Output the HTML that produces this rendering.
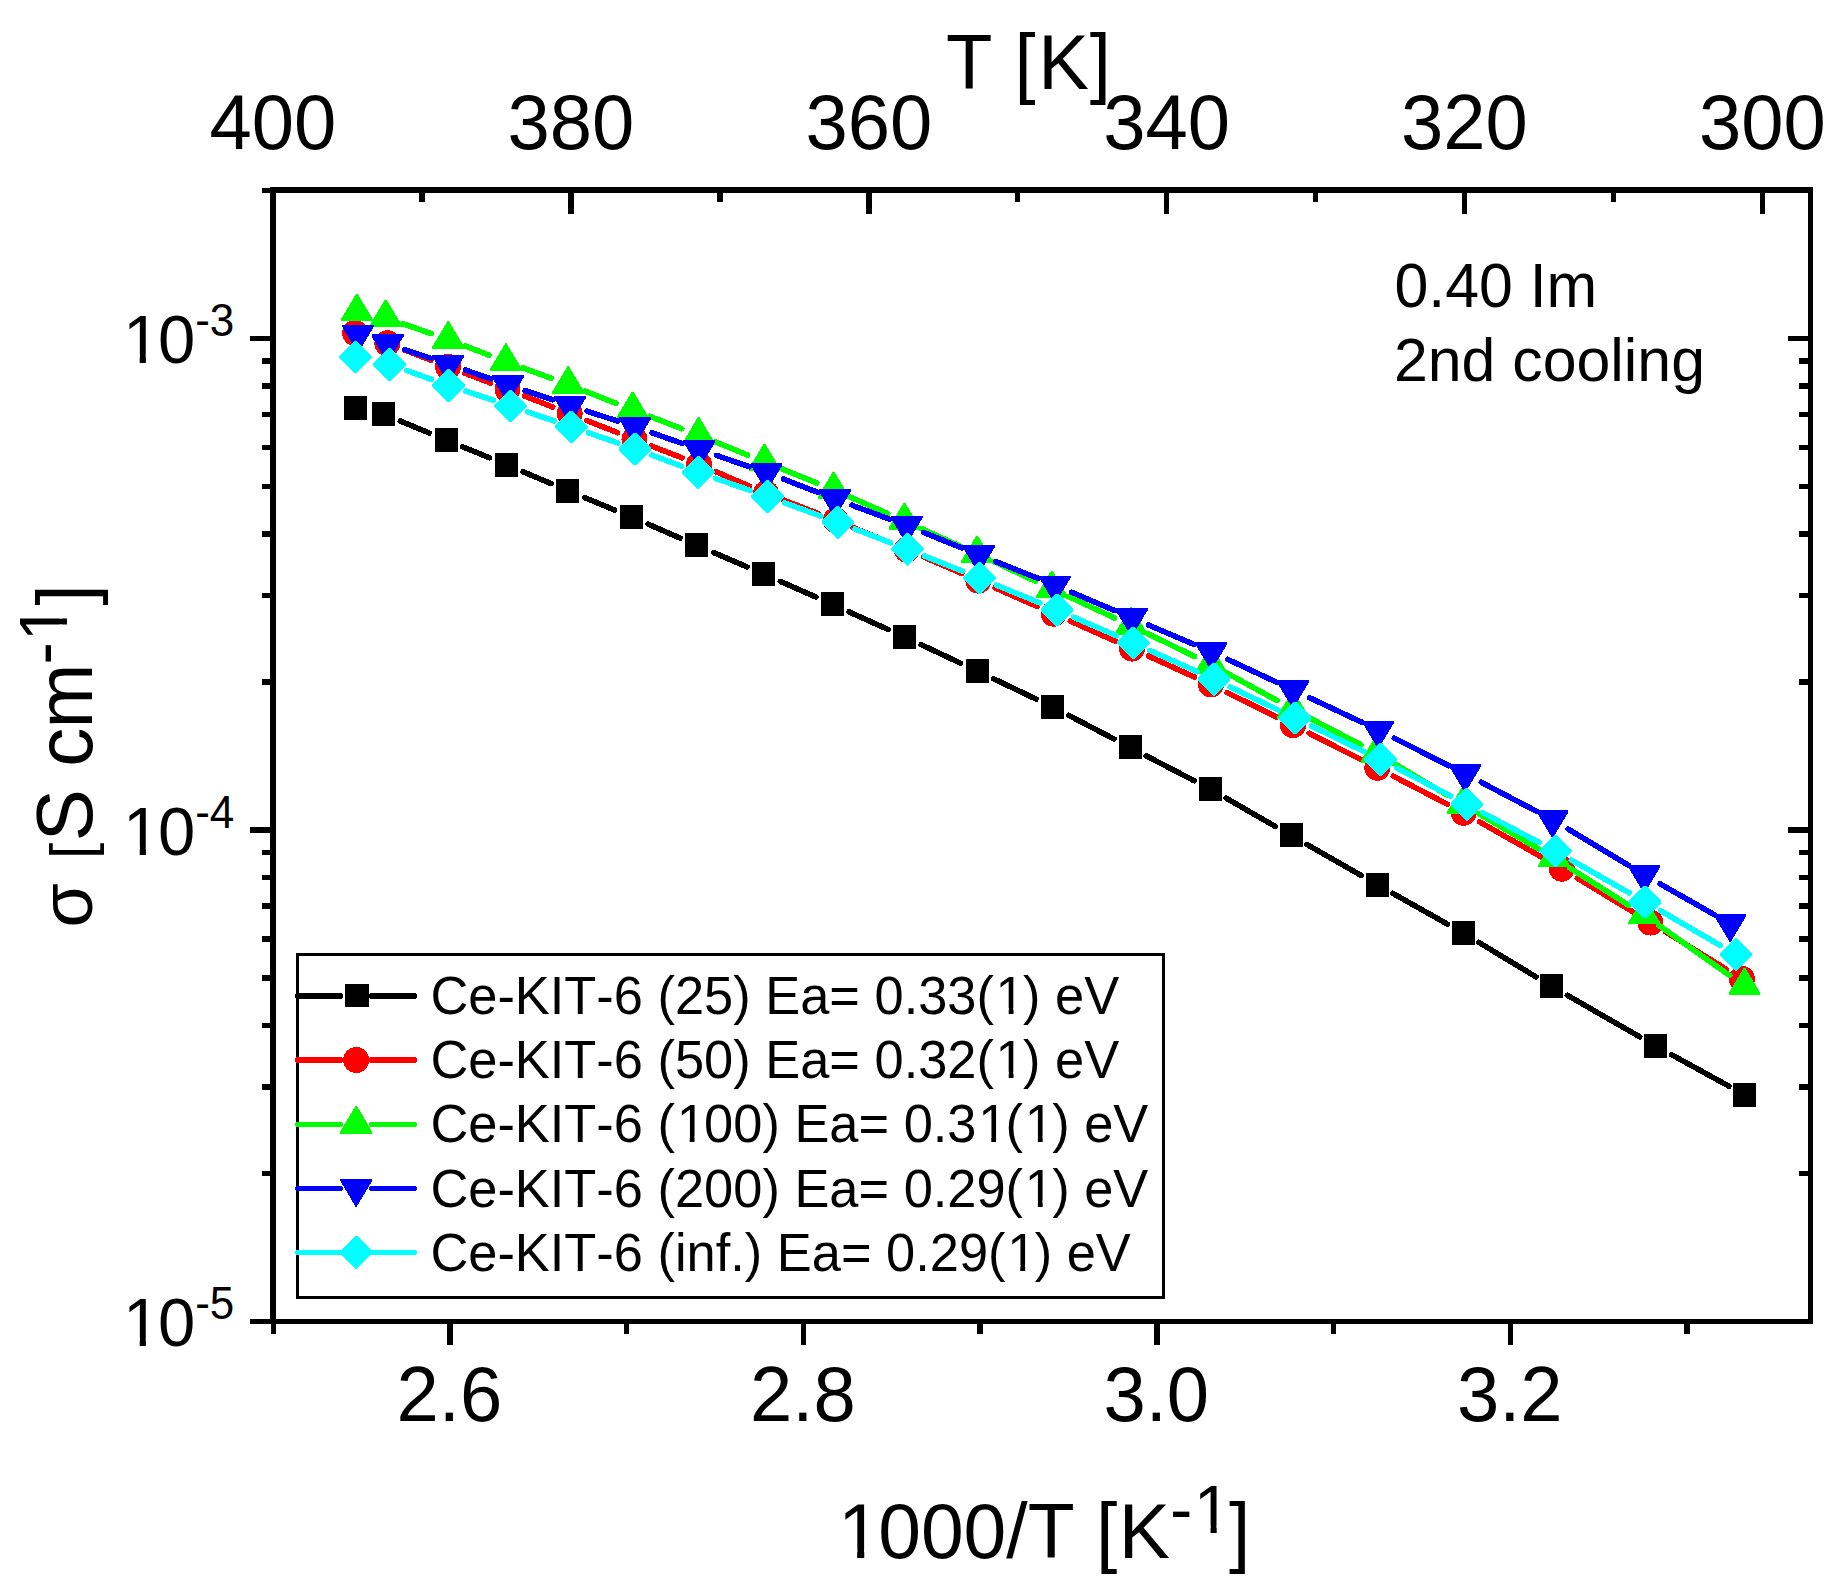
<!DOCTYPE html>
<html lang="en"><head><meta charset="utf-8"><title>Conductivity Arrhenius plot</title>
<style>html,body{margin:0;padding:0;background:#fff}svg{display:block}</style></head>
<body>
<svg width="1843" height="1594" viewBox="0 0 1843 1594">
<rect x="0" y="0" width="1843" height="1594" fill="#fff"/>
<g shape-rendering="crispEdges">
<path d="M400.3 421.0L429.2 433.0M462.8 446.9L489.6 457.8M523.2 471.8L551.1 483.6M584.7 497.6L614.6 510.0M648.1 524.1L680.1 538.1M713.5 552.5L747.0 566.8M780.3 581.4L815.9 597.0M849.1 611.9L888.0 629.4M921.1 644.6L960.6 663.2M993.5 678.7L1036.1 699.1M1068.6 715.3L1114.0 739.0M1146.2 755.8L1194.3 780.8M1226.2 798.2L1275.3 826.4M1306.9 844.4L1361.2 875.5M1392.9 893.4L1447.2 924.0M1478.7 942.3L1536.0 976.9M1567.4 995.3L1639.7 1036.8M1671.4 1054.6L1729.0 1086.2" stroke="#000000" stroke-width="5.6" stroke-linecap="round" fill="none"/>
<rect x="344" y="396" width="23" height="24" fill="#000000"/>
<rect x="372" y="402" width="23" height="24" fill="#000000"/>
<rect x="435" y="428" width="23" height="24" fill="#000000"/>
<rect x="495" y="453" width="23" height="24" fill="#000000"/>
<rect x="556" y="479" width="23" height="24" fill="#000000"/>
<rect x="620" y="505" width="23" height="24" fill="#000000"/>
<rect x="685" y="533" width="23" height="24" fill="#000000"/>
<rect x="752" y="562" width="23" height="24" fill="#000000"/>
<rect x="821" y="592" width="23" height="24" fill="#000000"/>
<rect x="893" y="625" width="23" height="24" fill="#000000"/>
<rect x="966" y="659" width="23" height="24" fill="#000000"/>
<rect x="1041" y="695" width="23" height="24" fill="#000000"/>
<rect x="1119" y="735" width="23" height="24" fill="#000000"/>
<rect x="1199" y="777" width="23" height="24" fill="#000000"/>
<rect x="1280" y="823" width="23" height="24" fill="#000000"/>
<rect x="1366" y="873" width="23" height="24" fill="#000000"/>
<rect x="1452" y="921" width="23" height="24" fill="#000000"/>
<rect x="1540" y="974" width="23" height="24" fill="#000000"/>
<rect x="1644" y="1034" width="23" height="24" fill="#000000"/>
<rect x="1733" y="1083" width="23" height="24" fill="#000000"/>
<path d="M404.4 349.9L431.0 360.2M465.0 373.3L490.5 382.9M524.5 396.0L552.7 407.0M586.6 420.4L617.6 432.7M651.5 446.1L682.0 457.8M715.7 471.6L749.3 486.1M783.0 499.9L818.8 513.7M852.6 527.3L890.1 542.7M923.6 556.9L961.7 573.4M995.1 587.9L1037.0 606.4M1070.3 621.1L1115.3 641.2M1148.5 656.1L1194.3 677.0M1227.2 692.6L1276.7 717.0M1309.2 733.3L1361.1 759.6M1393.4 776.2L1447.6 804.4M1479.5 821.8L1546.1 859.7M1577.4 878.2L1635.0 913.1M1666.0 932.1L1726.3 969.3" stroke="#ff0000" stroke-width="5.6" stroke-linecap="round" fill="none"/>
<circle cx="355.1" cy="333.0" r="13" fill="#ff0000"/>
<circle cx="387.4" cy="343.3" r="13" fill="#ff0000"/>
<circle cx="448.0" cy="366.8" r="13" fill="#ff0000"/>
<circle cx="507.5" cy="389.4" r="13" fill="#ff0000"/>
<circle cx="569.7" cy="413.6" r="13" fill="#ff0000"/>
<circle cx="634.5" cy="439.5" r="13" fill="#ff0000"/>
<circle cx="699.0" cy="464.4" r="13" fill="#ff0000"/>
<circle cx="766.0" cy="493.3" r="13" fill="#ff0000"/>
<circle cx="835.8" cy="520.3" r="13" fill="#ff0000"/>
<circle cx="906.9" cy="549.7" r="13" fill="#ff0000"/>
<circle cx="978.4" cy="580.6" r="13" fill="#ff0000"/>
<circle cx="1053.7" cy="613.7" r="13" fill="#ff0000"/>
<circle cx="1131.9" cy="648.6" r="13" fill="#ff0000"/>
<circle cx="1210.9" cy="684.5" r="13" fill="#ff0000"/>
<circle cx="1293.0" cy="725.1" r="13" fill="#ff0000"/>
<circle cx="1377.3" cy="767.8" r="13" fill="#ff0000"/>
<circle cx="1463.7" cy="812.8" r="13" fill="#ff0000"/>
<circle cx="1561.9" cy="868.7" r="13" fill="#ff0000"/>
<circle cx="1650.5" cy="922.6" r="13" fill="#ff0000"/>
<circle cx="1741.8" cy="978.8" r="13" fill="#ff0000"/>
<path d="M402.9 323.7L431.0 333.5M465.2 346.0L488.9 355.1M523.0 367.9L551.1 378.2M585.1 391.1L615.8 403.2M649.7 416.3L681.7 428.7M715.6 442.0L747.5 455.0M781.3 468.6L816.7 483.0M850.3 497.1L887.7 513.6M921.0 528.4L960.5 546.3M993.6 561.5L1035.4 581.2M1068.4 596.5L1114.5 617.9M1147.4 633.5L1194.6 656.5M1227.0 673.2L1277.0 700.5M1309.1 717.7L1360.9 744.8M1392.6 762.6L1447.4 795.2M1478.7 813.7L1538.3 848.8M1569.4 867.7L1628.8 905.3M1659.1 925.5L1729.6 975.5" stroke="#00ff00" stroke-width="5.6" stroke-linecap="round" fill="none"/>
<polygon points="356.2,293.7 357.6,293.7 372.8,319.1 372.8,321.2 341.0,321.2 341.0,319.1" fill="#00ff00"/>
<polygon points="385.0,299.5 386.4,299.5 401.6,324.9 401.6,327.0 369.8,327.0 369.8,324.9" fill="#00ff00"/>
<polygon points="447.5,321.3 448.9,321.3 464.1,346.7 464.1,348.8 432.3,348.8 432.3,346.7" fill="#00ff00"/>
<polygon points="505.2,343.4 506.6,343.4 521.8,368.8 521.8,370.9 490.0,370.9 490.0,368.8" fill="#00ff00"/>
<polygon points="567.5,366.3 568.9,366.3 584.1,391.7 584.1,393.8 552.3,393.8 552.3,391.7" fill="#00ff00"/>
<polygon points="632.0,391.6 633.4,391.6 648.6,417.0 648.6,419.1 616.8,419.1 616.8,417.0" fill="#00ff00"/>
<polygon points="698.0,417.0 699.4,417.0 714.6,442.4 714.6,444.5 682.8,444.5 682.8,442.4" fill="#00ff00"/>
<polygon points="763.7,443.6 765.1,443.6 780.3,469.0 780.3,471.1 748.5,471.1 748.5,469.0" fill="#00ff00"/>
<polygon points="832.9,471.6 834.3,471.6 849.5,497.0 849.5,499.1 817.7,499.1 817.7,497.0" fill="#00ff00"/>
<polygon points="903.7,502.7 905.1,502.7 920.3,528.1 920.3,530.2 888.5,530.2 888.5,528.1" fill="#00ff00"/>
<polygon points="976.4,535.6 977.8,535.6 993.0,561.0 993.0,563.1 961.2,563.1 961.2,561.0" fill="#00ff00"/>
<polygon points="1051.2,570.7 1052.6,570.7 1067.8,596.1 1067.8,598.2 1036.0,598.2 1036.0,596.1" fill="#00ff00"/>
<polygon points="1130.3,607.3 1131.7,607.3 1146.9,632.7 1146.9,634.8 1115.1,634.8 1115.1,632.7" fill="#00ff00"/>
<polygon points="1210.3,646.3 1211.7,646.3 1226.9,671.7 1226.9,673.8 1195.1,673.8 1195.1,671.7" fill="#00ff00"/>
<polygon points="1292.3,691.0 1293.7,691.0 1308.9,716.4 1308.9,718.5 1277.1,718.5 1277.1,716.4" fill="#00ff00"/>
<polygon points="1376.3,735.1 1377.7,735.1 1392.9,760.5 1392.9,762.6 1361.1,762.6 1361.1,760.5" fill="#00ff00"/>
<polygon points="1462.3,786.3 1463.7,786.3 1478.9,811.7 1478.9,813.8 1447.1,813.8 1447.1,811.7" fill="#00ff00"/>
<polygon points="1553.3,839.8 1554.7,839.8 1569.9,865.2 1569.9,867.3 1538.1,867.3 1538.1,865.2" fill="#00ff00"/>
<polygon points="1643.5,896.8 1644.9,896.8 1660.1,922.2 1660.1,924.3 1628.3,924.3 1628.3,922.2" fill="#00ff00"/>
<polygon points="1743.8,967.8 1745.2,967.8 1760.4,993.2 1760.4,995.3 1728.6,995.3 1728.6,993.2" fill="#00ff00"/>
<path d="M404.9 349.6L430.9 358.3M465.4 370.0L490.6 378.8M525.1 390.6L552.6 399.8M587.2 411.2L617.6 421.1M652.1 432.8L682.1 443.4M716.5 455.4L749.3 466.7M783.5 479.1L817.9 492.4M852.0 505.2L889.5 519.2M923.5 532.4L961.9 548.0M995.7 561.6L1038.0 578.3M1071.6 592.2L1114.9 610.7M1148.4 625.0L1194.5 644.6M1227.8 659.4L1276.5 682.2M1309.5 697.7L1361.7 722.2M1394.4 738.2L1448.9 765.7M1481.2 782.3L1536.4 811.2M1568.1 829.0L1628.6 865.4M1660.0 883.8L1714.4 914.7" stroke="#0000ff" stroke-width="5.6" stroke-linecap="round" fill="none"/>
<polygon points="357.3,352.2 358.7,352.2 373.9,326.8 373.9,324.7 342.1,324.7 342.1,326.8" fill="#0000ff"/>
<polygon points="386.9,361.9 388.3,361.9 403.5,336.5 403.5,334.4 371.7,334.4 371.7,336.5" fill="#0000ff"/>
<polygon points="447.5,382.0 448.9,382.0 464.1,356.6 464.1,354.5 432.3,354.5 432.3,356.6" fill="#0000ff"/>
<polygon points="507.1,402.8 508.5,402.8 523.7,377.4 523.7,375.3 491.9,375.3 491.9,377.4" fill="#0000ff"/>
<polygon points="569.2,423.6 570.6,423.6 585.8,398.2 585.8,396.1 554.0,396.1 554.0,398.2" fill="#0000ff"/>
<polygon points="634.2,444.7 635.6,444.7 650.8,419.3 650.8,417.2 619.0,417.2 619.0,419.3" fill="#0000ff"/>
<polygon points="698.6,467.5 700.0,467.5 715.2,442.1 715.2,440.0 683.4,440.0 683.4,442.1" fill="#0000ff"/>
<polygon points="765.8,490.6 767.2,490.6 782.4,465.2 782.4,463.1 750.6,463.1 750.6,465.2" fill="#0000ff"/>
<polygon points="834.2,516.9 835.6,516.9 850.8,491.5 850.8,489.4 819.0,489.4 819.0,491.5" fill="#0000ff"/>
<polygon points="905.9,543.5 907.3,543.5 922.5,518.1 922.5,516.0 890.7,516.0 890.7,518.1" fill="#0000ff"/>
<polygon points="978.1,572.9 979.5,572.9 994.7,547.5 994.7,545.4 962.9,545.4 962.9,547.5" fill="#0000ff"/>
<polygon points="1054.2,603.0 1055.6,603.0 1070.8,577.6 1070.8,575.5 1039.0,575.5 1039.0,577.6" fill="#0000ff"/>
<polygon points="1130.9,635.9 1132.3,635.9 1147.5,610.5 1147.5,608.4 1115.7,608.4 1115.7,610.5" fill="#0000ff"/>
<polygon points="1210.6,669.7 1212.0,669.7 1227.2,644.3 1227.2,642.2 1195.4,642.2 1195.4,644.3" fill="#0000ff"/>
<polygon points="1292.3,707.9 1293.7,707.9 1308.9,682.5 1308.9,680.4 1277.1,680.4 1277.1,682.5" fill="#0000ff"/>
<polygon points="1377.5,748.0 1378.9,748.0 1394.1,722.6 1394.1,720.5 1362.3,720.5 1362.3,722.6" fill="#0000ff"/>
<polygon points="1464.4,791.9 1465.8,791.9 1481.0,766.5 1481.0,764.4 1449.2,764.4 1449.2,766.5" fill="#0000ff"/>
<polygon points="1551.8,837.6 1553.2,837.6 1568.4,812.2 1568.4,810.1 1536.6,810.1 1536.6,812.2" fill="#0000ff"/>
<polygon points="1643.5,892.8 1644.9,892.8 1660.1,867.4 1660.1,865.3 1628.3,865.3 1628.3,867.4" fill="#0000ff"/>
<polygon points="1729.5,941.7 1730.9,941.7 1746.1,916.3 1746.1,914.2 1714.3,914.2 1714.3,916.3" fill="#0000ff"/>
<path d="M406.7 370.5L431.4 379.3M465.8 391.1L493.2 400.3M527.7 411.9L554.2 420.9M588.6 432.8L617.7 442.9M652.0 455.2L681.3 466.0M715.6 478.3L750.3 490.5M784.6 502.8L820.8 516.1M854.9 528.9L890.5 542.7M924.4 556.0L962.7 571.3M996.4 585.1L1040.0 603.0M1073.5 617.2L1116.6 635.8M1149.9 650.5L1197.3 671.7M1230.3 687.1L1278.6 710.2M1311.4 726.0L1364.2 751.6M1396.7 767.9L1450.7 796.0M1482.9 812.9L1539.4 842.6M1571.3 860.1L1629.2 892.8M1660.7 910.9L1720.3 945.4" stroke="#00ffff" stroke-width="5.6" stroke-linecap="round" fill="none"/>
<polygon points="354.6,340.7 356.6,340.7 371.9,356.0 371.9,358.0 356.6,373.3 354.6,373.3 339.3,358.0 339.3,356.0" fill="#00ffff"/>
<polygon points="388.6,348.1 390.6,348.1 405.9,363.4 405.9,365.4 390.6,380.7 388.6,380.7 373.3,365.4 373.3,363.4" fill="#00ffff"/>
<polygon points="447.5,369.1 449.5,369.1 464.8,384.4 464.8,386.4 449.5,401.7 447.5,401.7 432.2,386.4 432.2,384.4" fill="#00ffff"/>
<polygon points="509.5,389.7 511.5,389.7 526.8,405.0 526.8,407.0 511.5,422.3 509.5,422.3 494.2,407.0 494.2,405.0" fill="#00ffff"/>
<polygon points="570.4,410.5 572.4,410.5 587.7,425.8 587.7,427.8 572.4,443.1 570.4,443.1 555.1,427.8 555.1,425.8" fill="#00ffff"/>
<polygon points="633.9,432.6 635.9,432.6 651.2,447.9 651.2,449.9 635.9,465.2 633.9,465.2 618.6,449.9 618.6,447.9" fill="#00ffff"/>
<polygon points="697.4,456.0 699.4,456.0 714.7,471.3 714.7,473.3 699.4,488.6 697.4,488.6 682.1,473.3 682.1,471.3" fill="#00ffff"/>
<polygon points="766.5,480.2 768.5,480.2 783.8,495.5 783.8,497.5 768.5,512.8 766.5,512.8 751.2,497.5 751.2,495.5" fill="#00ffff"/>
<polygon points="836.9,506.1 838.9,506.1 854.2,521.4 854.2,523.4 838.9,538.7 836.9,538.7 821.6,523.4 821.6,521.4" fill="#00ffff"/>
<polygon points="906.5,532.9 908.5,532.9 923.8,548.2 923.8,550.2 908.5,565.5 906.5,565.5 891.2,550.2 891.2,548.2" fill="#00ffff"/>
<polygon points="978.6,561.8 980.6,561.8 995.9,577.1 995.9,579.1 980.6,594.4 978.6,594.4 963.3,579.1 963.3,577.1" fill="#00ffff"/>
<polygon points="1055.8,593.7 1057.8,593.7 1073.1,609.0 1073.1,611.0 1057.8,626.3 1055.8,626.3 1040.5,611.0 1040.5,609.0" fill="#00ffff"/>
<polygon points="1132.3,626.7 1134.3,626.7 1149.6,642.0 1149.6,644.0 1134.3,659.3 1132.3,659.3 1117.0,644.0 1117.0,642.0" fill="#00ffff"/>
<polygon points="1212.9,662.9 1214.9,662.9 1230.2,678.2 1230.2,680.2 1214.9,695.5 1212.9,695.5 1197.6,680.2 1197.6,678.2" fill="#00ffff"/>
<polygon points="1294.0,701.8 1296.0,701.8 1311.3,717.1 1311.3,719.1 1296.0,734.4 1294.0,734.4 1278.7,719.1 1278.7,717.1" fill="#00ffff"/>
<polygon points="1379.6,743.2 1381.6,743.2 1396.9,758.5 1396.9,760.5 1381.6,775.8 1379.6,775.8 1364.3,760.5 1364.3,758.5" fill="#00ffff"/>
<polygon points="1465.8,788.1 1467.8,788.1 1483.1,803.4 1483.1,805.4 1467.8,820.7 1465.8,820.7 1450.5,805.4 1450.5,803.4" fill="#00ffff"/>
<polygon points="1554.5,834.8 1556.5,834.8 1571.8,850.1 1571.8,852.1 1556.5,867.4 1554.5,867.4 1539.2,852.1 1539.2,850.1" fill="#00ffff"/>
<polygon points="1644.0,885.5 1646.0,885.5 1661.3,900.8 1661.3,902.8 1646.0,918.1 1644.0,918.1 1628.7,902.8 1628.7,900.8" fill="#00ffff"/>
<polygon points="1735.0,938.2 1737.0,938.2 1752.3,953.5 1752.3,955.5 1737.0,970.8 1735.0,970.8 1719.7,955.5 1719.7,953.5" fill="#00ffff"/>
<rect x="270" y="187" width="6" height="1137" fill="#000"/>
<rect x="1808" y="187" width="5" height="1137" fill="#000"/>
<rect x="270" y="187" width="1543" height="6" fill="#000"/>
<rect x="270" y="1319" width="1543" height="5" fill="#000"/>
<rect x="271" y="1324" width="5" height="10" fill="#000"/>
<rect x="447" y="1324" width="6" height="21" fill="#000"/>
<rect x="624" y="1324" width="5" height="10" fill="#000"/>
<rect x="801" y="1324" width="5" height="21" fill="#000"/>
<rect x="977" y="1324" width="6" height="10" fill="#000"/>
<rect x="1154" y="1324" width="6" height="21" fill="#000"/>
<rect x="1331" y="1324" width="5" height="10" fill="#000"/>
<rect x="1508" y="1324" width="5" height="21" fill="#000"/>
<rect x="1684" y="1324" width="6" height="10" fill="#000"/>
<rect x="419" y="193" width="6" height="9" fill="#000"/>
<rect x="568" y="193" width="6" height="21" fill="#000"/>
<rect x="717" y="193" width="6" height="9" fill="#000"/>
<rect x="866" y="193" width="6" height="21" fill="#000"/>
<rect x="1015" y="193" width="5" height="9" fill="#000"/>
<rect x="1164" y="193" width="5" height="21" fill="#000"/>
<rect x="1313" y="193" width="5" height="9" fill="#000"/>
<rect x="1462" y="193" width="5" height="21" fill="#000"/>
<rect x="1611" y="193" width="5" height="9" fill="#000"/>
<rect x="1760" y="193" width="5" height="21" fill="#000"/>
<rect x="250" y="1319" width="20" height="5" fill="#000"/>
<rect x="262" y="1171" width="8" height="5" fill="#000"/>
<rect x="1799" y="1171" width="9" height="5" fill="#000"/>
<rect x="262" y="1084" width="8" height="6" fill="#000"/>
<rect x="1799" y="1084" width="9" height="6" fill="#000"/>
<rect x="262" y="1023" width="8" height="5" fill="#000"/>
<rect x="1799" y="1023" width="9" height="5" fill="#000"/>
<rect x="262" y="975" width="8" height="6" fill="#000"/>
<rect x="1799" y="975" width="9" height="6" fill="#000"/>
<rect x="262" y="936" width="8" height="6" fill="#000"/>
<rect x="1799" y="936" width="9" height="6" fill="#000"/>
<rect x="262" y="903" width="8" height="6" fill="#000"/>
<rect x="1799" y="903" width="9" height="6" fill="#000"/>
<rect x="262" y="875" width="8" height="5" fill="#000"/>
<rect x="1799" y="875" width="9" height="5" fill="#000"/>
<rect x="262" y="850" width="8" height="5" fill="#000"/>
<rect x="1799" y="850" width="9" height="5" fill="#000"/>
<rect x="250" y="827" width="20" height="6" fill="#000"/>
<rect x="1788" y="827" width="20" height="6" fill="#000"/>
<rect x="262" y="679" width="8" height="6" fill="#000"/>
<rect x="1799" y="679" width="9" height="6" fill="#000"/>
<rect x="262" y="593" width="8" height="5" fill="#000"/>
<rect x="1799" y="593" width="9" height="5" fill="#000"/>
<rect x="262" y="531" width="8" height="6" fill="#000"/>
<rect x="1799" y="531" width="9" height="6" fill="#000"/>
<rect x="262" y="484" width="8" height="5" fill="#000"/>
<rect x="1799" y="484" width="9" height="5" fill="#000"/>
<rect x="262" y="445" width="8" height="5" fill="#000"/>
<rect x="1799" y="445" width="9" height="5" fill="#000"/>
<rect x="262" y="412" width="8" height="5" fill="#000"/>
<rect x="1799" y="412" width="9" height="5" fill="#000"/>
<rect x="262" y="383" width="8" height="6" fill="#000"/>
<rect x="1799" y="383" width="9" height="6" fill="#000"/>
<rect x="262" y="358" width="8" height="6" fill="#000"/>
<rect x="1799" y="358" width="9" height="6" fill="#000"/>
<rect x="250" y="336" width="20" height="5" fill="#000"/>
<rect x="1788" y="336" width="20" height="5" fill="#000"/>
<rect x="262" y="188" width="8" height="5" fill="#000"/>
<rect x="297.5" y="954.5" width="866" height="343" fill="#fff" stroke="#000" stroke-width="3"/>
<rect x="295" y="993" width="48" height="6" rx="2.5" fill="#000000"/><rect x="369" y="993" width="48" height="6" rx="2.5" fill="#000000"/>
<rect x="345" y="984" width="24" height="23" fill="#000000"/>
<rect x="295" y="1057" width="48" height="6" rx="2.5" fill="#ff0000"/><rect x="369" y="1057" width="48" height="6" rx="2.5" fill="#ff0000"/>
<circle cx="356.2" cy="1060.0" r="13" fill="#ff0000"/>
<rect x="295" y="1122" width="48" height="5" rx="2.5" fill="#00ff00"/><rect x="369" y="1122" width="48" height="5" rx="2.5" fill="#00ff00"/>
<polygon points="355.5,1106.1 356.9,1106.1 372.1,1131.5 372.1,1133.6 340.3,1133.6 340.3,1131.5" fill="#00ff00"/>
<rect x="295" y="1186" width="48" height="5" rx="2.5" fill="#0000ff"/><rect x="369" y="1186" width="48" height="5" rx="2.5" fill="#0000ff"/>
<polygon points="355.5,1206.5 356.9,1206.5 372.1,1181.1 372.1,1179.0 340.3,1179.0 340.3,1181.1" fill="#0000ff"/>
<rect x="295" y="1250" width="48" height="5" rx="2.5" fill="#00ffff"/><rect x="369" y="1250" width="48" height="5" rx="2.5" fill="#00ffff"/>
<polygon points="355.2,1236.2 357.2,1236.2 372.5,1251.5 372.5,1253.5 357.2,1268.8 355.2,1268.8 339.9,1253.5 339.9,1251.5" fill="#00ffff"/>
</g>
<g font-family="'Liberation Sans', sans-serif" fill="#000" style="font-kerning:none">
<text transform="translate(273.0,149.3) scale(1,1.03)" font-size="76" text-anchor="middle">400</text>
<text transform="translate(570.9,149.3) scale(1,1.03)" font-size="76" text-anchor="middle">380</text>
<text transform="translate(868.8,149.3) scale(1,1.03)" font-size="76" text-anchor="middle">360</text>
<text transform="translate(1166.6,149.3) scale(1,1.03)" font-size="76" text-anchor="middle">340</text>
<text transform="translate(1464.5,149.3) scale(1,1.03)" font-size="76" text-anchor="middle">320</text>
<text transform="translate(1762.4,149.3) scale(1,1.03)" font-size="76" text-anchor="middle">300</text>
<text transform="translate(449.4,1421.3) scale(1,1.03)" font-size="76" text-anchor="middle">2.6</text>
<text transform="translate(802.9,1421.3) scale(1,1.03)" font-size="76" text-anchor="middle">2.8</text>
<text transform="translate(1156.3,1421.3) scale(1,1.03)" font-size="76" text-anchor="middle">3.0</text>
<text transform="translate(1509.7,1421.3) scale(1,1.03)" font-size="76" text-anchor="middle">3.2</text>
<text transform="translate(946.0,88.6) scale(1,1.02)" font-size="76" text-anchor="start" dx="0 0 1 2.5 1">T [K]</text>
<clipPath id="k1" clipPathUnits="userSpaceOnUse"><path clip-rule="evenodd" d="M-30 -99.8H474.4V46.1H-30ZM5.56 -8.62H21.16V4.61H5.56ZM28.25 -8.62H43.25V4.61H28.25ZM360.92 -31.64H374.53V-20.10H360.92ZM380.71 -31.64H393.80V-20.10H380.71Z"/></clipPath>
<text transform="translate(836.0,1557.8) scale(1,1.02)" font-size="76.8" text-anchor="start" dx="2 -2.5 0 0 0 0 0 0 1.5 0 1.5 -2" clip-path="url(#k1)">1000/T [K<tspan font-size="67" dy="-24.12">-1</tspan><tspan dy="24.12">]</tspan></text>
<clipPath id="k2" clipPathUnits="userSpaceOnUse"><path clip-rule="evenodd" d="M-30 -87.1H173.3V40.2H-30ZM5.11 -7.52H18.72V4.02H5.11ZM24.90 -7.52H37.99V4.02H24.90Z"/></clipPath>
<text transform="translate(121.0,363.0) scale(1,1.03)" font-size="67" text-anchor="start" dx="2 -2.3" clip-path="url(#k2)">10<tspan font-size="44" dy="-26.21">-3</tspan></text>
<clipPath id="k3" clipPathUnits="userSpaceOnUse"><path clip-rule="evenodd" d="M-30 -87.1H173.3V40.2H-30ZM5.11 -7.52H18.72V4.02H5.11ZM24.90 -7.52H37.99V4.02H24.90Z"/></clipPath>
<text transform="translate(121.0,854.5) scale(1,1.03)" font-size="67" text-anchor="start" dx="2 -2.3" clip-path="url(#k3)">10<tspan font-size="44" dy="-26.21">-4</tspan></text>
<clipPath id="k4" clipPathUnits="userSpaceOnUse"><path clip-rule="evenodd" d="M-30 -87.1H173.3V40.2H-30ZM5.11 -7.52H18.72V4.02H5.11ZM24.90 -7.52H37.99V4.02H24.90Z"/></clipPath>
<text transform="translate(121.0,1346.0) scale(1,1.03)" font-size="67" text-anchor="start" dx="2 -2.3" clip-path="url(#k4)">10<tspan font-size="44" dy="-26.21">-5</tspan></text>
<g transform="translate(92,926) rotate(-90)">
<clipPath id="k5" clipPathUnits="userSpaceOnUse"><path clip-rule="evenodd" d="M-30 -101.4H402.1V46.8H-30ZM288.31 -31.64H301.92V-20.10H288.31ZM308.11 -31.64H321.19V-20.10H308.11Z"/></clipPath>
<text transform="translate(-0.5,0.0) scale(1,1.02)" font-size="78" text-anchor="start" dx="-1 0 2.3 1.6 0 0.8 -0.7 -1 1 -1.5" clip-path="url(#k5)"><tspan font-size="72">σ</tspan> <tspan font-size="58">[</tspan>S cm<tspan font-size="67" dy="-24.12">-1</tspan><tspan font-size="76" dy="24.12">]</tspan></text>
</g>
<text transform="translate(1394.5,307.4) scale(1,1.03)" font-size="60.8" text-anchor="start">0.40 Im</text>
<text transform="translate(1394.0,381.4) scale(1,1.02)" font-size="60.8" text-anchor="start">2nd cooling</text>
<clipPath id="k6" clipPathUnits="userSpaceOnUse"><path clip-rule="evenodd" d="M-30 -68.1H748.8V31.4H-30ZM567.66 -5.88H578.30V3.14H567.66ZM583.14 -5.88H593.37V3.14H583.14Z"/></clipPath>
<text transform="translate(430.4,1014.1) scale(1,1.02)" font-size="52.4" text-anchor="start" dx="0 0 0 0 0 0 0 0 0 0 0 0 0 0 0 0 0 0 0 0 0 0 0 1.7 -1.7" clip-path="url(#k6)">Ce-KIT-6 (25) Ea= 0.33(1) eV</text>
<clipPath id="k7" clipPathUnits="userSpaceOnUse"><path clip-rule="evenodd" d="M-30 -68.1H748.8V31.4H-30ZM567.66 -5.88H578.30V3.14H567.66ZM583.14 -5.88H593.37V3.14H583.14Z"/></clipPath>
<text transform="translate(430.4,1077.8) scale(1,1.02)" font-size="52.4" text-anchor="start" dx="0 0 0 0 0 0 0 0 0 0 0 0 0 0 0 0 0 0 0 0 0 0 0 1.7 -1.7" clip-path="url(#k7)">Ce-KIT-6 (50) Ea= 0.32(1) eV</text>
<clipPath id="k8" clipPathUnits="userSpaceOnUse"><path clip-rule="evenodd" d="M-30 -68.1H777.9V31.4H-30ZM248.68 -5.88H259.32V3.14H248.68ZM264.16 -5.88H274.39V3.14H264.16ZM550.21 -5.88H560.86V3.14H550.21ZM565.69 -5.88H575.93V3.14H565.69ZM596.80 -5.88H607.45V3.14H596.80ZM612.28 -5.88H622.52V3.14H612.28Z"/></clipPath>
<text transform="translate(430.4,1142.2) scale(1,1.02)" font-size="52.4" text-anchor="start" dx="0 0 0 0 0 0 0 0 0 0 1.7 -1.7 0 0 0 0 0 0 0 0 0 0 1.7 -1.7 1.7 -1.7" clip-path="url(#k8)">Ce-KIT-6 (100) Ea= 0.31(1) eV</text>
<clipPath id="k9" clipPathUnits="userSpaceOnUse"><path clip-rule="evenodd" d="M-30 -68.1H777.9V31.4H-30ZM596.80 -5.88H607.45V3.14H596.80ZM612.28 -5.88H622.52V3.14H612.28Z"/></clipPath>
<text transform="translate(430.4,1206.6) scale(1,1.02)" font-size="52.4" text-anchor="start" dx="0 0 0 0 0 0 0 0 0 0 0 0 0 0 0 0 0 0 0 0 0 0 0 0 1.7 -1.7" clip-path="url(#k9)">Ce-KIT-6 (200) Ea= 0.29(1) eV</text>
<clipPath id="k10" clipPathUnits="userSpaceOnUse"><path clip-rule="evenodd" d="M-30 -68.1H760.4V31.4H-30ZM579.28 -5.88H589.92V3.14H579.28ZM594.76 -5.88H604.99V3.14H594.76Z"/></clipPath>
<text transform="translate(430.4,1270.7) scale(1,1.02)" font-size="52.4" text-anchor="start" dx="0 0 0 0 0 0 0 0 0 0 0 0 0 0 0 0 0 0 0 0 0 0 0 0 0 1.7 -1.7" clip-path="url(#k10)">Ce-KIT-6 (inf.) Ea= 0.29(1) eV</text>
</g>
</svg>
</body></html>
